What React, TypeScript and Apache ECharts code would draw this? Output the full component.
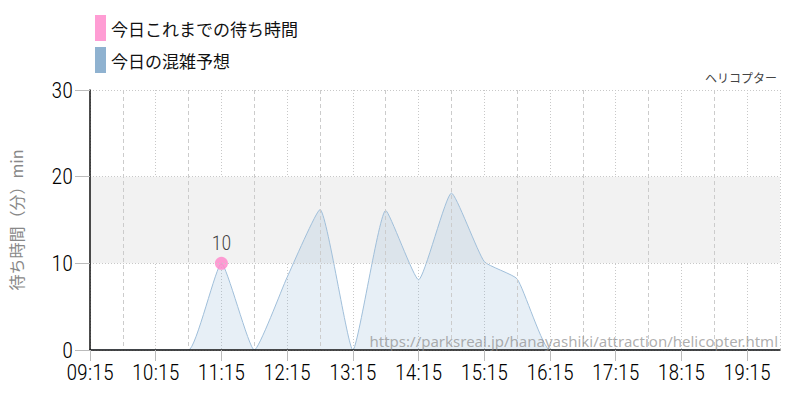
import React, { useEffect, useRef } from "react";
import * as echarts from "echarts";

const times = [
  "09:15", "09:45", "10:15", "10:45", "11:15", "11:45", "12:15", "12:45",
  "13:15", "13:45", "14:15", "14:45", "15:15", "15:45", "16:15", "16:45",
  "17:15", "17:45", "18:15", "18:45", "19:15", "19:45",
];
const forecast = [
  0, 0, 0, 0, 10, 0, 8.4, 16.2, 0, 16.1, 8.1, 18.1, 10.2, 8.2, 0, 0,
  0, 0, 0, 0, 0, 0,
];
const actual: (number | null)[] = [
  null, null, null, null, 10, null, null, null, null, null, null, null,
  null, null, null, null, null, null, null, null, null, null,
];
const yTicks = { min: 0, max: 30, interval: 10 };
const band = [10, 20];

const NUM_FONT = "'Roboto Condensed', Roboto, sans-serif";
const JP_FONT = "'Noto Sans CJK JP', 'Noto Sans', sans-serif";

export default function App() {
  const ref = useRef<HTMLDivElement>(null);
  useEffect(() => {
    document.body.style.margin = "0";
    const chart = echarts.init(ref.current!, undefined, { renderer: "svg" });
    chart.setOption({
      animation: false,
      title: {
        text: "ヘリコプター",
        right: 18,
        top: 66,
        textStyle: { fontSize: 12, fontWeight: "normal", color: "#444", fontFamily: JP_FONT },
      },
      legend: {
        orient: "vertical",
        left: 90,
        top: 10,
        itemWidth: 11,
        itemHeight: 26,
        itemGap: 6,
        icon: "rect",
        data: ["今日これまでの待ち時間", "今日の混雑予想"],
        textStyle: { fontSize: 17, color: "#111", fontFamily: JP_FONT },
      },
      grid: { left: 90, right: 20, top: 90, bottom: 50 },
      xAxis: [
        {
          type: "category",
          data: times,
          boundaryGap: false,
          axisLine: { show: true, lineStyle: { color: "#111", width: 1.5 } },
          axisTick: { show: true, interval: 1, length: 11, lineStyle: { color: "#bbb" } },
          axisLabel: {
            interval: 1,
            margin: 11,
            fontSize: 22,
            fontWeight: 300,
            color: "#000",
            fontFamily: NUM_FONT,
          },
          splitLine: {
            show: true,
            interval: (i: number) => i % 2 === 1 && i < times.length - 1,
            lineStyle: { color: "#ccc", type: [4, 3] },
          },
          z: 5,
        },
        {
          type: "category",
          data: times,
          boundaryGap: false,
          position: "bottom",
          axisLine: { show: false },
          axisTick: { show: false },
          axisLabel: { show: false },
          splitLine: {
            show: true,
            interval: (i: number) => i % 2 === 0 || i === times.length - 1,
            lineStyle: { color: "#c8c8c8", type: [1, 2] },
          },
        },
      ],
      yAxis: {
        type: "value",
        min: yTicks.min,
        max: yTicks.max,
        interval: yTicks.interval,
        name: "待ち時間（分）min",
        nameLocation: "middle",
        nameRotate: 90,
        nameGap: 66,
        nameTextStyle: { fontSize: 16, color: "#888", fontFamily: JP_FONT },
        axisLine: { show: true, lineStyle: { color: "#111", width: 1.5 } },
        axisTick: { show: true, length: 15, lineStyle: { color: "#bbb" } },
        axisLabel: { margin: 17, fontSize: 22, fontWeight: 300, color: "#000", fontFamily: NUM_FONT },
        splitLine: { show: true, lineStyle: { color: "#c8c8c8", type: [1, 2] } },
        z: 5,
      },
      graphic: [
        {
          type: "text",
          right: 22,
          bottom: 52,
          z: 10,
          style: {
            text: "https://parksreal.jp/hanayashiki/attraction/helicopter.html",
            fontSize: 15,
            fill: "rgba(140,140,140,0.7)",
            fontFamily: "'Noto Sans', sans-serif",
          },
        },
      ],
      series: [
        {
          name: "band",
          type: "line",
          data: [],
          z: 0,
          silent: true,
          markArea: {
            silent: true,
            itemStyle: { color: "#f2f2f2" },
            data: [[{ yAxis: band[0] }, { yAxis: band[1] }]],
          },
        },
        {
          name: "今日の混雑予想",
          type: "line",
          data: forecast,
          smooth: 0.15,
          symbol: "none",
          z: 2,
          itemStyle: { color: "#8fb2d0" },
          lineStyle: { color: "#a0bfda", width: 1 },
          areaStyle: { color: "rgba(140,178,214,0.3)" },
        },
        {
          name: "今日これまでの待ち時間",
          type: "line",
          data: actual,
          symbol: "circle",
          symbolSize: 13,
          z: 4,
          itemStyle: { color: "#ff8ccc", opacity: 0.85 },
          lineStyle: { width: 0 },
          label: {
            show: true,
            position: "top",
            distance: 4,
            fontSize: 20,
            fontWeight: 300,
            color: "#222",
            fontFamily: NUM_FONT,
          },
        },
      ],
    });
    return () => chart.dispose();
  }, []);
  return <div ref={ref} style={{ width: 800, height: 400 }} />;
}
